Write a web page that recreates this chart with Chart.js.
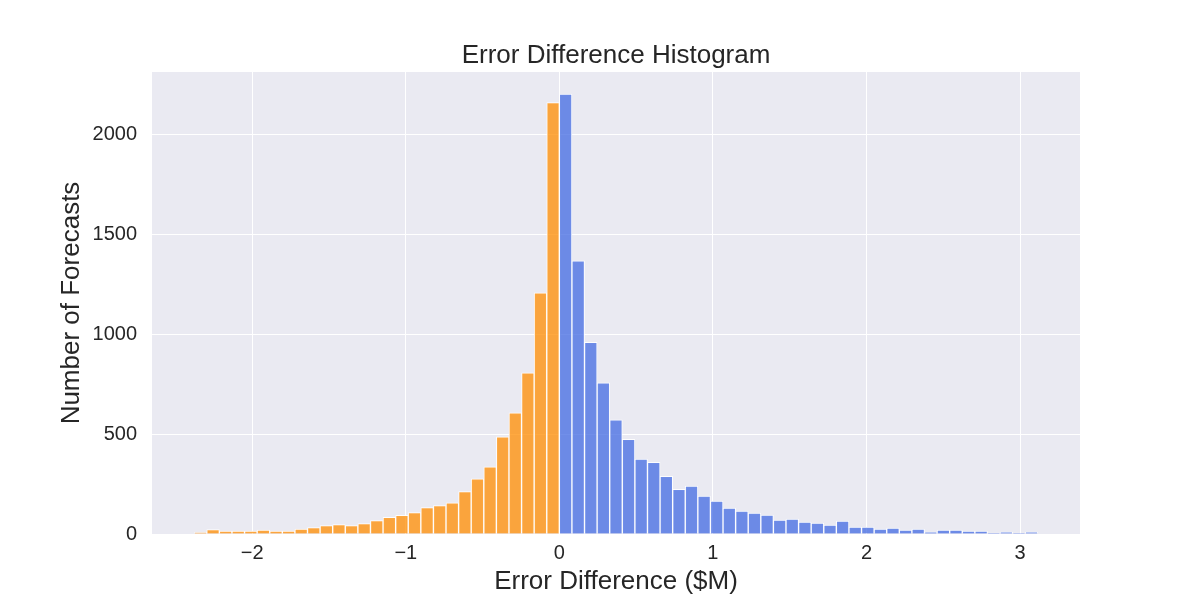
<!DOCTYPE html>
<html>
<head>
<meta charset="utf-8">
<title>Error Difference Histogram</title>
<script src="https://cdn.jsdelivr.net/npm/chart.js@4.4.1/dist/chart.umd.min.js"></script>
<style>
  html, body { margin: 0; padding: 0; background: #ffffff; }
  #wrap { width: 1200px; height: 600px; }
</style>
</head>
<body>
<div id="wrap"><canvas id="error-hist" width="1200" height="600"></canvas></div>
<script>
/*** histogram bins: width of one bin and where the first bin starts ($M) ***/
let binWidth = 0.082
let firstBinStart = -2.378

/*** counts per bin, negative side (orange) then positive side (blue) ***/
let negativeCounts = [7, 22, 15, 15, 15, 20, 15, 15, 25, 32, 42, 47, 42, 52, 67, 83, 93, 107, 132, 142,
                      156, 212, 276, 336, 487, 607, 808, 1209, 2162]
let positiveCounts = [2205, 1369, 961, 757, 572, 475, 375, 359, 289, 224, 240, 190, 165, 130, 115, 105, 95, 70, 75, 60,
                      55, 45, 65, 35, 35, 25, 30, 20, 25, 10, 20, 20, 15, 15, 5, 10, 5, 10]

/*** tick labels ***/
let xTickValues = [-2, -1, 0, 1, 2, 3]
let yTickValues = [0, 500, 1000, 1500, 2000]

let textColor = '#262626'
let fontFamily = '"Liberation Sans", Arial, Helvetica, sans-serif'

/*** bin centres -> points for the bar chart ***/
function toPoints(counts, offsetBins) {
    return counts.map(function (c, i) {
        return { x: firstBinStart + (offsetBins + i + 0.5) * binWidth, y: c }
    })
}
let negativePoints = toPoints(negativeCounts, 0)
let positivePoints = toPoints(positiveCounts, negativeCounts.length)

let dataMin = firstBinStart
let dataMax = firstBinStart + (negativeCounts.length + positiveCounts.length) * binWidth
let margin = (dataMax - dataMin) * 0.05
let maxCount = Math.max.apply(null, negativeCounts.concat(positiveCounts))

function minusSign(v) {
    return v < 0 ? '\u2212' + Math.abs(v) : String(v)
}

/*** seaborn-like grey plot background ***/
let plotBackground = {
    id: 'plotBackground',
    beforeDraw: function (chart) {
        let a = chart.chartArea
        let ctx = chart.ctx
        ctx.save()
        ctx.fillStyle = '#EAEAF2'
        ctx.fillRect(a.left, a.top, a.right - a.left, a.bottom - a.top)
        ctx.restore()
    }
}

let histCanvas = document.getElementById('error-hist').getContext('2d')
let histConfig = {
    type: 'bar',
    data: {
        datasets: [{
            label: 'negative',
            data: negativePoints,
            backgroundColor: 'rgba(255, 140, 0, 0.75)',
            borderColor: 'rgba(255, 255, 255, 0.9)',
            borderWidth: 1,
            grouped: false,
            barPercentage: 1,
            categoryPercentage: 1
        }, {
            label: 'positive',
            data: positivePoints,
            backgroundColor: 'rgba(65, 105, 225, 0.75)',
            borderColor: 'rgba(255, 255, 255, 0.9)',
            borderWidth: 1,
            grouped: false,
            barPercentage: 1,
            categoryPercentage: 1
        }]
    },
    options: {
        responsive: false,
        animation: false,
        devicePixelRatio: 1,
        layout: { padding: { left: 0, right: 120, top: 0, bottom: 0 } },
        plugins: {
            legend: { display: false },
            tooltip: { enabled: false },
            title: {
                display: true,
                text: 'Error Difference Histogram',
                color: textColor,
                fullSize: false,
                font: { family: fontFamily, size: 26, weight: 'normal', lineHeight: 1.2 },
                padding: { top: 40, bottom: 0.8 }
            }
        },
        scales: {
            x: {
                type: 'linear',
                offset: false,
                min: dataMin - margin,
                max: dataMax + margin,
                border: { display: false },
                grid: { color: '#ffffff', lineWidth: 1, drawTicks: false, offset: false },
                afterBuildTicks: function (scale) {
                    scale.ticks = xTickValues.map(function (v) { return { value: v } })
                },
                ticks: {
                    color: textColor,
                    padding: 7,
                    maxRotation: 0,
                    autoSkip: false,
                    font: { family: fontFamily, size: 20 },
                    callback: function (v) { return minusSign(v) }
                },
                title: {
                    display: true,
                    text: 'Error Difference ($M)',
                    color: textColor,
                    font: { family: fontFamily, size: 26, lineHeight: 1.2 },
                    padding: { top: 0, bottom: 3 }
                },
                afterFit: function (scale) { scale.height = 66 }
            },
            y: {
                type: 'linear',
                min: 0,
                max: maxCount * 1.05,
                border: { display: false },
                grid: { color: '#ffffff', lineWidth: 1, drawTicks: false },
                afterBuildTicks: function (scale) {
                    scale.ticks = yTickValues.map(function (v) { return { value: v } })
                },
                ticks: {
                    color: textColor,
                    padding: 15,
                    autoSkip: false,
                    font: { family: fontFamily, size: 20 },
                    callback: function (v) { return String(v) }
                },
                title: {
                    display: true,
                    text: 'Number of Forecasts',
                    color: textColor,
                    font: { family: fontFamily, size: 26, lineHeight: 1.2 },
                    padding: { top: 56, bottom: 0 }
                },
                afterFit: function (scale) { scale.width = 152 }
            }
        }
    },
    plugins: [plotBackground]
}

/*** Create the chart from the canvas and the config ***/
let histChart = new Chart(histCanvas, histConfig)
</script>
</body>
</html>
